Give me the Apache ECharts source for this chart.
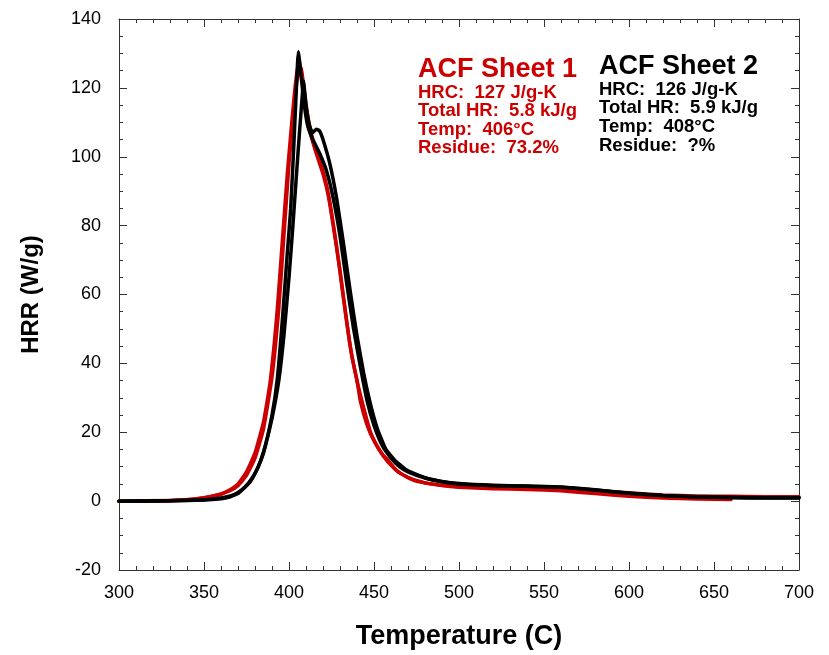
<!DOCTYPE html>
<html>
<head>
<meta charset="utf-8">
<script src="https://cdn.jsdelivr.net/npm/echarts@6/dist/echarts.min.js"></script>
<style>
html,body{margin:0;padding:0;background:#fff;}
#chart{width:829px;height:655px;}
</style>
</head>
<body>
<div id="chart"></div>
<script>
// Temperature (C), HRR (W/g) pairs
const sheet1RunA = [[300,0],[320,0],[340,0.4],[350,1],[360,2],[365,3.2],[370,5],[375,8.5],[380,14],[385,23],[389,35],[393,55],[396,75],[399,95],[402,112],[404,122],[406,128],[408,121],[410,113],[413,106],[416,101],[420,95],[423,89],[426,80],[430,67],[434,52],[437,42],[440,35],[442,29],[446,22],[450,17.5],[455,13.5],[458,12],[463,9],[470,6.8],[480,5.3],[490,4.6],[500,4.2],[520,3.9],[540,3.8],[560,3.6],[580,3.1],[600,2.4],[620,1.8],[640,1.5],[660,1.4],[680,1.3],[700,1.3]];
const sheet1RunB = [[300,0],[330,0.2],[345,0.6],[355,1.4],[365,3],[370,4.5],[375,7.5],[380,12.5],[385,21],[390,36],[394,56],[397,77],[400,98],[403,115],[405,123],[407,126],[409,119],[411,112],[414,105],[418,99],[421,94],[424,87],[428,74],[432,59],[436,45],[440,35],[444,27],[448,20],[453,15],[458,11.5],[465,8.2],[475,5.8],[490,4.5],[500,4],[520,3.6],[540,3.4],[560,3],[580,2.2],[600,1.4],[620,0.9],[640,0.6],[660,0.5]];
const sheet2RunA = [[300,0],[330,0.1],[350,0.3],[360,0.7],[365,1.2],[370,2.2],[373,3.5],[377,5.5],[380,8],[385,14],[390,25],[393,35],[396,52],[399,72],[401,85],[403,105],[405,127],[405.5,130.5],[407,124],[409,115],[411,109],[414,105],[418,101],[422,96],[426,88],[430,77],[434,63],[438,50],[442,39],[446,29],[450,22],[455,16],[460,12.5],[465,10],[470,8.5],[480,6.7],[490,5.6],[500,5],[520,4.5],[540,4.3],[560,4],[580,3.2],[600,2.3],[620,1.6],[640,1.2],[660,1],[680,0.9],[700,0.9]];
const sheet2RunB = [[300,0],[330,0.1],[350,0.4],[360,0.9],[366,1.6],[370,2.5],[374,4],[378,6.5],[382,10],[386,16],[390,24],[394,35],[397,48],[400,65],[402,78],[404,92],[406,106],[408,119],[408.5,122],[410,115],[412,109],[414,107],[416,108],[418,107.5],[420,105],[424,98],[428,88],[432,75],[436,61],[440,48],[444,37],[448,28],[452,21],[457,15],[463,11.5],[470,8.8],[480,6.8],[490,5.7],[500,5.1],[520,4.6],[540,4.4],[560,4.1],[580,3.3],[600,2.3],[620,1.6],[640,1.3],[660,1.1],[680,1],[700,1]];

const xTicks = [300,350,400,450,500,550,600,650,700];
const yTicks = [-20,0,20,40,60,80,100,120,140];

const sheet1Lines = ['ACF Sheet 1','HRC:  127 J/g-K','Total HR:  5.8 kJ/g','Temp:  406°C','Residue:  73.2%'];
const sheet2Lines = ['ACF Sheet 2','HRC:  126 J/g-K','Total HR:  5.9 kJ/g','Temp:  408°C','Residue:  ?%'];

const RED = '#cc0000';
const AXC = '#333';
const FONT = 'Liberation Sans, Arial, Helvetica, sans-serif';

const chart = echarts.init(document.getElementById('chart'));

function axisBase(extra){
  return Object.assign({
    type:'value',
    axisLine:{show:true,onZero:false,lineStyle:{color:AXC,width:1}},
    axisTick:{show:true,inside:true,length:8,lineStyle:{color:AXC,width:1}},
    minorTick:{show:true,length:4,lineStyle:{color:AXC,width:1}},
    splitLine:{show:false},
    minorSplitLine:{show:false}
  }, extra);
}

function textBlock(lines, x, color, titleY, firstY, step){
  const els = [];
  els.push({type:'text', left:x, top:titleY, style:{text:lines[0], fill:color, font:'bold 27px '+FONT}});
  for(let i=1;i<lines.length;i++){
    els.push({type:'text', left:x, top:firstY+(i-1)*step, style:{text:lines[i], fill:color, font:'bold 18.5px '+FONT}});
  }
  return els;
}

const lineSeries = (data,color,z)=>({
  type:'line', data:data, showSymbol:false, smooth:0.15,
  lineStyle:{color:color,width:3.5,join:'round',cap:'round'}, z:z, animation:false
});

chart.setOption({
  animation:false,
  grid:{left:119,right:30,top:19,bottom:85},
  xAxis:[
    axisBase({min:xTicks[0],max:xTicks[xTicks.length-1],interval:50,
      minorTick:{show:true,splitNumber:5,length:4,lineStyle:{color:AXC}},
      position:'bottom',
      axisLabel:{show:true,color:'#000',fontSize:18,fontFamily:FONT,margin:14},
      name:'Temperature (C)',nameLocation:'middle',nameGap:53,
      nameTextStyle:{color:'#000',fontSize:27,fontWeight:'bold',fontFamily:FONT}}),
    axisBase({min:xTicks[0],max:xTicks[xTicks.length-1],interval:50,
      minorTick:{show:true,splitNumber:5,length:4,lineStyle:{color:AXC}},
      position:'top',axisLabel:{show:false}})
  ],
  yAxis:[
    axisBase({min:yTicks[0],max:yTicks[yTicks.length-1],interval:20,
      minorTick:{show:true,splitNumber:4,length:4,lineStyle:{color:AXC}},
      position:'left',
      axisLabel:{show:true,color:'#000',fontSize:18,fontFamily:FONT,margin:18},
      name:'HRR (W/g)',nameLocation:'middle',nameGap:76,
      nameTextStyle:{color:'#000',fontSize:24,fontWeight:'bold',fontFamily:FONT}}),
    axisBase({min:yTicks[0],max:yTicks[yTicks.length-1],interval:20,
      minorTick:{show:true,splitNumber:4,length:4,lineStyle:{color:AXC}},
      position:'right',axisLabel:{show:false}})
  ],
  series:[
    lineSeries(sheet1RunB,RED,2),
    lineSeries(sheet1RunA,RED,3),
    lineSeries(sheet2RunB,'#000',4),
    lineSeries(sheet2RunA,'#000',5)
  ],
  graphic: textBlock(sheet1Lines,418,RED,56,83,18.5).concat(textBlock(sheet2Lines,599,'#000',53,80,18.8))
});
</script>
</body>
</html>
